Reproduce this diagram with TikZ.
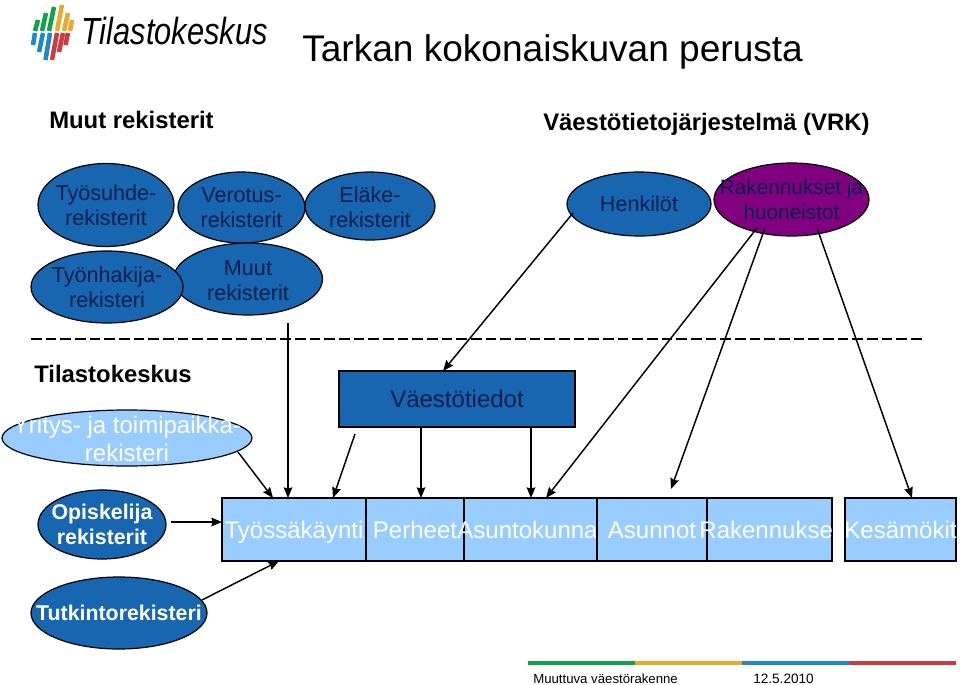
\documentclass[tikz,border=0pt]{standalone}
\usepackage{fontspec}
\setmainfont{Liberation Sans}
\usetikzlibrary{shapes.geometric,calc,arrows.meta}
\definecolor{regblue}{HTML}{1865B0}
\definecolor{lightb}{HTML}{99CCFF}
\definecolor{purp}{HTML}{800080}
\definecolor{inkd}{HTML}{0B1F4F}
\definecolor{lg}{HTML}{12A14B}
\definecolor{ly}{HTML}{E9A92F}
\definecolor{lb}{HTML}{1E88C9}
\definecolor{lr}{HTML}{D0393F}
\newcommand{\tx}{\fontsize{16.2}{18.9}\selectfont}
\newcommand{\txb}{\fontsize{16}{18.9}\selectfont\bfseries}
\newcommand{\txl}{\fontsize{18}{21}\selectfont}
\tikzset{
 x=0.75pt,y=-0.75pt,
 ell/.style={ellipse,draw=black,line width=0.9pt,inner sep=0pt,outer sep=0pt,fill=regblue},
 lbl/.style={align=center,inner sep=0pt,text=inkd,font=\tx},
 lblw/.style={align=center,inner sep=0pt,text=white,font=\txl},
 lblb/.style={align=center,inner sep=0pt,text=white,font=\txb},
 regbox/.style={rectangle,draw=black,line width=0.9pt,fill=lightb,inner sep=0pt,outer sep=0pt,text=white,font=\txl,text height=16pt,text depth=1.8pt,minimum height=63*.75pt},
 arr/.style={draw=black,line width=1.1pt,-{Stealth[length=8pt,width=6.5pt,inset=1pt]}},
 hd/.style={inner sep=0pt,anchor=base west,font=\fontsize{17.9}{20}\selectfont\bfseries},
 rule/.style={line width=3.2pt},
}
\begin{document}
\begin{tikzpicture}
\useasboundingbox (0,0) rectangle (960,685);
\fill[white] (0,0) rectangle (960,685);
% logo
\begin{scope}[line width=3.4pt]
\draw[lg] (35,31)--(38,20);
\draw[lg] (42,31)--(46,13);
\draw[lg] (49,31)--(54,7);
\draw[ly] (57,31)--(62,5);
\draw[ly] (64,31)--(68,13);
\draw[ly] (70,31)--(72,20);
\draw[lb] (33,45)--(35,33);
\draw[lb] (39,52)--(43,33);
\draw[lb] (45.5,60)--(50,33);
\draw[lr] (52,60)--(57,33);
\draw[lr] (59,52)--(63,33);
\draw[lr] (65.5,45)--(68,33);
\end{scope}
\node[inner sep=0pt,anchor=base west] (logo) at (81,45) {\scalebox{0.856}[1.05]{\fontsize{27}{30}\selectfont\itshape Tilastokeskus}};
\node[inner sep=0pt,anchor=base west,font=\fontsize{27.8}{30}\selectfont] (title) at (302,61.5) {Tarkan kokonaiskuvan perusta};
\node[hd] (h1) at (49,128) {Muut rekisterit};
\node[hd] (h2) at (543,130) {Väestötietojärjestelmä (VRK)};
\node[hd] (h3) at (34,382) {Tilastokeskus};
% ellipses
\node[ell,minimum width=136*.75pt,minimum height=83*.75pt,label={[lbl]center:Työsuhde-\\rekisterit}] (tyosuhde) at (106,205) {};
\node[ell,minimum width=127*.75pt,minimum height=71*.75pt,label={[lbl]center:Verotus-\\rekisterit}] (verotus) at (241.5,207.5) {};
\node[ell,minimum width=130*.75pt,minimum height=68*.75pt,label={[lbl,yshift=-1.2pt]center:Eläke-\\rekisterit}] (elake) at (370,206) {};
\node[ell,minimum width=149*.75pt,minimum height=72*.75pt,label={[lbl,yshift=-1.5pt]center:Muut\\rekisterit}] (muut) at (248,279) {};
\node[ell,minimum width=152*.75pt,minimum height=72*.75pt,label={[lbl]center:Työnhakija-\\rekisteri}] (hakija) at (107,287) {};
\node[ell,minimum width=144*.75pt,minimum height=64*.75pt,label={[lbl]center:Henkilöt}] (henk) at (639,204) {};
\node[ell,fill=purp,minimum width=155*.75pt,minimum height=73*.75pt,label={[lbl,font=\fontsize{15.6}{18.9}\selectfont]center:Rakennukset ja\\huoneistot}] (rak) at (791.5,199.5) {};
\node[ell,fill=lightb,minimum width=250*.75pt,minimum height=56*.75pt,label={[lblw,yshift=-1pt]center:Yritys- ja toimipaikka-\\rekisteri}] (yritys) at (127,438) {};
\node[ell,minimum width=128*.75pt,minimum height=69*.75pt,label={[lblb]center:Opiskelija\\rekisterit}] (opis) at (102,524.5) {};
\node[ell,minimum width=176*.75pt,minimum height=72*.75pt,label={[lblb]center:Tutkintorekisteri}] (tutk) at (119,613) {};
% boxes
\node[rectangle,draw=black,line width=0.9pt,fill=regblue,inner sep=0pt,outer sep=0pt,text=inkd,minimum width=236*.75pt,minimum height=56*.75pt,font=\txl] (vt) at (457,399) {Väestötiedot};
\node[regbox,minimum width=144*.75pt] (tyo) at (294,529.5) {\makebox[0pt]{Työssäkäynti}};
\node[regbox,minimum width=98*.75pt] (per) at (415,529.5) {\makebox[0pt]{Perheet}};
\node[regbox,minimum width=133*.75pt] (akun) at (530.5,529.5) {\makebox[0pt]{\hspace*{-4.5pt}Asuntokunna}};
\node[regbox,minimum width=110*.75pt] (asun) at (652,529.5) {\makebox[0pt]{Asunnot}};
\node[regbox,minimum width=125*.75pt] (rakn) at (769.5,529.5) {\makebox[0pt]{Rakennukset}};
\node[regbox,minimum width=111*.75pt] (kesa) at (900.5,529.5) {\makebox[0pt]{Kesämökit}};
% dashed
\coordinate (dl) at (31,339);
\coordinate (dr) at (922,339);
\draw[line width=1.1pt,dash pattern=on 8pt off 3pt] (dl)--(dr);
% connectors
\draw[arr] ($(henk)+(-66,9)$) -- ($(vt.north west)+(104,0)$);
\draw[arr] ($(muut)+(40,44)$) -- ($(tyo.north west)+(66,0)$);
\draw[arr] ($(yritys)+(111,14)$) -- ($(tyo.north west)+(51,0)$);
\draw[arr] ($(vt.south west)+(16,7)$) -- ($(tyo.north west)+(111,0)$);
\draw[arr] ($(vt.south west)+(82,0)$) -- ($(per.north west)+(55,0)$);
\draw[arr] ($(vt.south west)+(192,0)$) -- ($(akun.north west)+(67,0)$);
\draw[arr] ($(rak)+(-34.5,28.5)$) -- ($(akun.north west)+(82,0)$);
\draw[arr] ($(rak)+(-26.5,28.5)$) -- ($(asun.north west)+(74,-9)$);
\draw[arr] ($(rak)+(25.5,28.5)$) -- ($(kesa.north west)+(67,0)$);
\draw[arr] ($(opis)+(69,-2.5)$) -- ($(tyo.north west)+(0,24)$);
\draw[arr] ($(tutk)+(83,-13)$) -- ($(tyo.south west)+(57,0)$);
% footer
\coordinate (f0) at (528,662.7);
\coordinate (f1) at (635,662.7);
\coordinate (f2) at (742,662.7);
\coordinate (f3) at (849,662.7);
\coordinate (f4) at (956,662.7);
\draw[rule,lg] (f0)--(f1);
\draw[rule,ly] (f1)--(f2);
\draw[rule,lb] (f2)--(f3);
\draw[rule,lr] (f3)--(f4);
\node[inner sep=0pt,anchor=base west,font=\fontsize{9.9}{12}\selectfont] (ft1) at (533,683) {Muuttuva väestörakenne};
\node[inner sep=0pt,anchor=base west,font=\fontsize{10.2}{12}\selectfont] (ft2) at (753,683) {12.5.2010};
\end{tikzpicture}
\end{document}
